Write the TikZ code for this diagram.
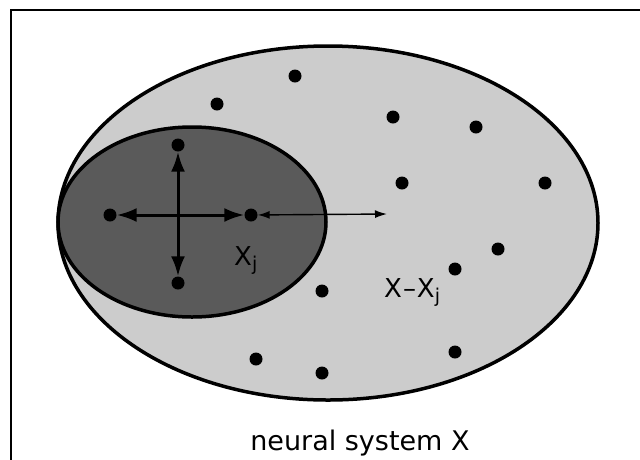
\documentclass[tikz,border=0pt]{standalone}
\usepackage{fontspec}
\setmainfont{DejaVu Sans}
\usetikzlibrary{arrows.meta}
\definecolor{lightg}{HTML}{CCCCCC}
\definecolor{darkg}{HTML}{5A5A5A}
\tikzset{
  dot/.style={circle,fill=black,minimum size=13pt,inner sep=0pt},
  bigarrow/.style={line width=3pt,{Latex[length=20pt,width=14pt]}-{Latex[length=20pt,width=14pt]}},
  thinarrow/.style={line width=1.4pt,{Latex[length=12pt,width=8pt]}-{Latex[length=12pt,width=8pt]}},
  lbl/.style={inner sep=0pt,anchor=base west,font=\fontsize{26}{30}\selectfont}
}
\newcommand{\subj}{\raisebox{-5pt}{\fontsize{19}{22}\selectfont j}}
\begin{document}
\begin{tikzpicture}[x=1pt,y=-1pt]
\useasboundingbox (0,0) rectangle (640,459);
\clip (0,0) rectangle (640,459);
\fill[white] (0,0) rectangle (640,459);
\draw[line width=2.2pt] (11,10) rectangle (680,500);
% outer set
\filldraw[fill=lightg,line width=3.5pt] (328,223) ellipse [x radius=270,y radius=177];
% inner set
\filldraw[fill=darkg,line width=3.5pt] (192,222) ellipse [x radius=134,y radius=95];
% inner dots
\node[dot] (t) at (178,145) {};
\node[dot] (l) at (110,215) {};
\node[dot] (r) at (251,215) {};
\node[dot] (b) at (178,283) {};
\coordinate (e) at (387,214);
\draw[bigarrow] (l) -- (r);
\draw[bigarrow] (t) -- (b);
\draw[thinarrow] (r) -- (e);
% outer dots
\node[dot] (o1) at (295,76) {};
\node[dot] (o2) at (217,104) {};
\node[dot] (o3) at (393,117) {};
\node[dot] (o4) at (476,127) {};
\node[dot] (o5) at (402,183) {};
\node[dot] (o6) at (545,183) {};
\node[dot] (o7) at (498,249) {};
\node[dot] (o8) at (455,269) {};
\node[dot] (o9) at (322,291) {};
\node[dot] (o10) at (256,359) {};
\node[dot] (o11) at (322,373) {};
\node[dot] (o12) at (455,352) {};
% labels
\node[lbl] (xj) at (234,265) {X\subj};
\node[lbl] (xxj) at (384,297) {X\kern1pt{}–\kern1pt{}X\subj};
\node[inner sep=0pt,anchor=base,font=\fontsize{27}{32}\selectfont] (sys) at (360,450) {neural system X};
\end{tikzpicture}
\end{document}
